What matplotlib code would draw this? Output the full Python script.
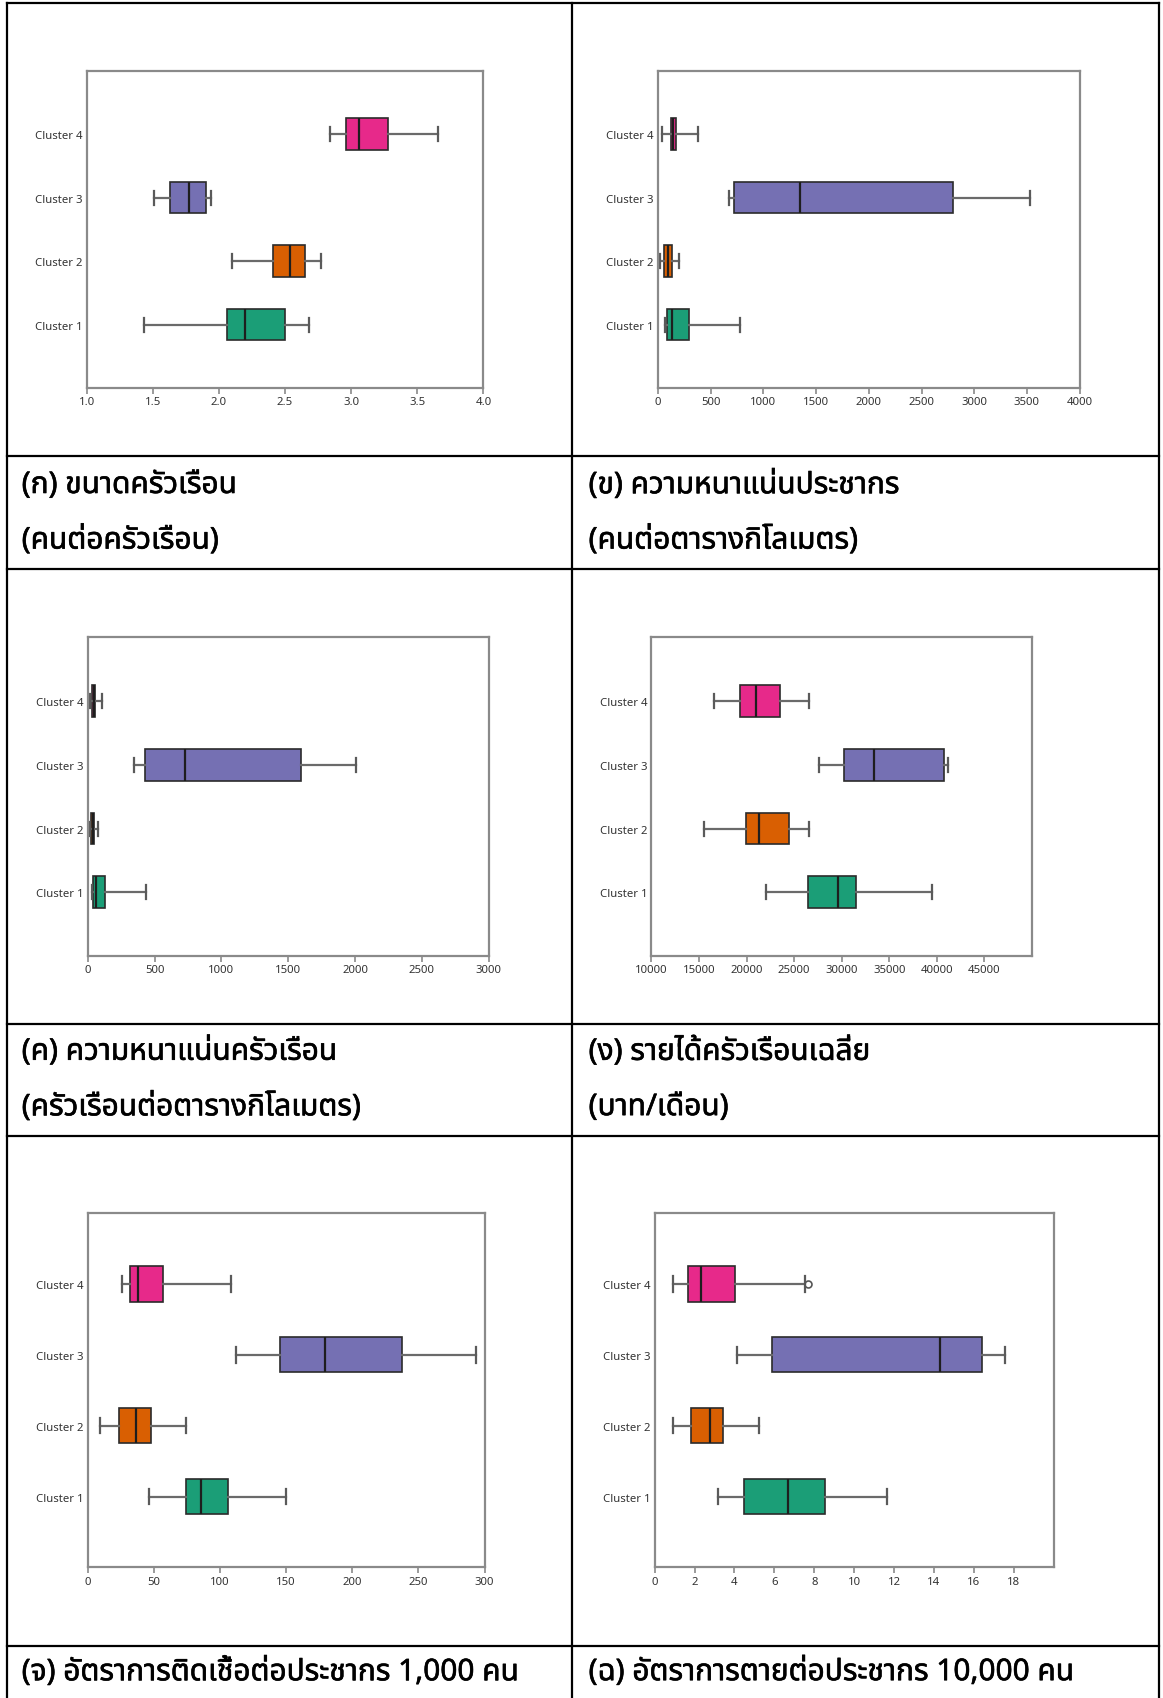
import matplotlib
matplotlib.use('Agg')
import matplotlib.pyplot as plt
import matplotlib.patheffects as pe
from matplotlib.lines import Line2D
from matplotlib import font_manager
from fontTools.ttLib import TTFont
import numpy as np

W, H = 1163, 1699

clusters = ['Cluster 1', 'Cluster 2', 'Cluster 3', 'Cluster 4']
colors = ['#1b9e77', '#d95f02', '#7570b3', '#e7298a']

# (ก) ขนาดครัวเรือน : whisker low, Q1, median, Q3, whisker high per cluster
size_lo = [1.43, 2.10, 1.51, 2.84]
size_q1 = [2.06, 2.41, 1.63, 2.96]
size_med = [2.20, 2.54, 1.77, 3.06]
size_q3 = [2.50, 2.65, 1.90, 3.28]
size_hi = [2.68, 2.77, 1.94, 3.66]

# (ข) ความหนาแน่นประชากร
pop_lo = [66, 23, 674, 42]
pop_q1 = [85, 61, 725, 124]
pop_med = [133, 92, 1346, 140]
pop_q3 = [291, 133, 2800, 168]
pop_hi = [782, 199, 3526, 383]

# (ค) ความหนาแน่นครัวเรือน
hh_lo = [28, 13, 349, 13]
hh_q1 = [40, 25, 431, 35]
hh_med = [63, 37, 730, 44]
hh_q3 = [132, 50, 1593, 52]
hh_hi = [434, 78, 2007, 108]

# (ง) รายได้ครัวเรือนเฉลี่ย
inc_lo = [22030, 15540, 27600, 16570]
inc_q1 = [26490, 19960, 30270, 19280]
inc_med = [29590, 21310, 33380, 20950]
inc_q3 = [31470, 24420, 40750, 23500]
inc_hi = [39550, 26570, 41180, 26570]

# (จ) อัตราการติดเชื้อต่อประชากร 1,000 คน
inf_lo = [46.6, 9.5, 112.2, 26.0]
inf_q1 = [74.0, 23.7, 145.1, 31.8]
inf_med = [85.7, 36.3, 179.2, 37.7]
inf_q3 = [106.1, 48.0, 237.8, 56.7]
inf_hi = [149.6, 74.0, 293.6, 108.3]

# (ฉ) อัตราการตายต่อประชากร 10,000 คน
death_lo = [3.17, 0.93, 4.12, 0.93]
death_q1 = [4.50, 1.84, 5.89, 1.65]
death_med = [6.70, 2.77, 14.28, 2.32]
death_q3 = [8.56, 3.42, 16.42, 4.01]
death_hi = [11.64, 5.22, 17.54, 7.52]
death_fliers = [[], [], [], [7.67]]

captions = [
    ['(ก) ขนาดครัวเรือน', '(คนต่อครัวเรือน)'],
    ['(ข) ความหนาแน่นประชากร', '(คนต่อตารางกิโลเมตร)'],
    ['(ค) ความหนาแน่นครัวเรือน', '(ครัวเรือนต่อตารางกิโลเมตร)'],
    ['(ง) รายได้ครัวเรือนเฉลี่ย', '(บาท/เดือน)'],
    ['(จ) อัตราการติดเชื้อต่อประชากร 1,000 คน'],
    ['(ฉ) อัตราการตายต่อประชากร 10,000 คน'],
]


def thai_families():
    # installed families that have Thai glyphs
    names = []
    for f in font_manager.fontManager.ttflist:
        if f.name in names:
            continue
        try:
            tt = TTFont(f.fname, fontNumber=0, lazy=True)
            cmap = tt.getBestCmap()
            if cmap and 0x0E01 in cmap and 0x0E40 in cmap:
                names.append(f.name)
        except Exception:
            continue
    return names


def pick_thai(names):
    for want in ['Noto Sans Thai', 'Noto Sans Thai UI', 'Leelawadee UI', 'Sarabun',
                 'IBM Plex Sans Thai', 'Prompt', 'Kanit']:
        if want in names:
            return want
    plain = [n for n in names if 'Looped' not in n]
    if plain:
        return plain[0]
    return names[0] if names else 'DejaVu Sans'


THAI = pick_thai(thai_families())
plt.rcParams['font.family'] = ['Noto Sans', 'DejaVu Sans']


def make_stats(lo, q1, med, q3, hi, fliers=None):
    stats = []
    for i in range(len(lo)):
        stats.append({'whislo': lo[i], 'q1': q1[i], 'med': med[i], 'q3': q3[i],
                      'whishi': hi[i], 'fliers': fliers[i] if fliers else [],
                      'label': clusters[i]})
    return stats


def px_axes(fig, l, t, r, b):
    return fig.add_axes([l / W, 1 - b / H, (r - l) / W, (b - t) / H])


def draw_box(ax, stats, xlim, xticks, fmt):
    bp = ax.bxp(stats, positions=[1, 2, 3, 4], widths=0.5, orientation='horizontal',
                patch_artist=True, capwidths=0.22, showfliers=True,
                boxprops=dict(edgecolor='#2b2b2b', linewidth=1.2),
                medianprops=dict(color='#1e1e1e', linewidth=1.6),
                whiskerprops=dict(color='#6a6a6a', linewidth=1.6),
                capprops=dict(color='#5a5a5a', linewidth=1.6),
                flierprops=dict(marker='o', markersize=5, markerfacecolor='none',
                                markeredgecolor='#555555', markeredgewidth=1.2))
    for patch, c in zip(bp['boxes'], colors):
        patch.set_facecolor(c)
    ax.set_xlim(*xlim)
    ax.set_ylim(0, 5)
    ax.set_xticks(xticks)
    ax.set_xticklabels([fmt(v) for v in xticks])
    ax.set_yticks([1, 2, 3, 4])
    ax.set_yticklabels(clusters)
    ax.tick_params(axis='y', length=0, labelsize=8.2, labelcolor='#333333', pad=3)
    ax.tick_params(axis='x', length=4, width=1.2, color='#8a8a8a', labelsize=8.2,
                   labelcolor='#333333', pad=2)
    for s in ax.spines.values():
        s.set_color('#8a8a8a')
        s.set_linewidth(1.6)


fig = plt.figure(figsize=(W / 100, H / 100), dpi=100)

ax = px_axes(fig, 86.7, 71.5, 483.4, 389.1)
draw_box(ax, make_stats(size_lo, size_q1, size_med, size_q3, size_hi),
         (1.0, 4.0), np.arange(1.0, 4.01, 0.5), lambda v: f'{v:.1f}')

ax = px_axes(fig, 658, 71.5, 1079.6, 389.1)
draw_box(ax, make_stats(pop_lo, pop_q1, pop_med, pop_q3, pop_hi),
         (0, 4000), np.arange(0, 4001, 500), lambda v: f'{v:.0f}')

ax = px_axes(fig, 87.8, 638.4, 488.8, 957)
draw_box(ax, make_stats(hh_lo, hh_q1, hh_med, hh_q3, hh_hi),
         (0, 3000), np.arange(0, 3001, 500), lambda v: f'{v:.0f}')

ax = px_axes(fig, 651.4, 638.4, 1031.9, 957)
draw_box(ax, make_stats(inc_lo, inc_q1, inc_med, inc_q3, inc_hi),
         (10000, 50000), np.arange(10000, 45001, 5000), lambda v: f'{v:.0f}')

ax = px_axes(fig, 87.8, 1214, 484.5, 1568.4)
draw_box(ax, make_stats(inf_lo, inf_q1, inf_med, inf_q3, inf_hi),
         (0, 300), np.arange(0, 301, 50), lambda v: f'{v:.0f}')

ax = px_axes(fig, 654.7, 1214, 1053.6, 1568.4)
draw_box(ax, make_stats(death_lo, death_q1, death_med, death_q3, death_hi, death_fliers),
         (0, 20), np.arange(0, 19, 2), lambda v: f'{v:.0f}')

# table borders
def hline(y, x0=6.5, x1=1158.7):
    fig.add_artist(Line2D([x0 / W, x1 / W], [1 - y / H, 1 - y / H], color='black', lw=1.6))

def vline(x, y0=4.3, y1=H):
    fig.add_artist(Line2D([x / W, x / W], [1 - y0 / H, 1 - y1 / H], color='black', lw=1.6))

for y in [4.3, 457.4, 570, 1025.4, 1137, 1646.5]:
    hline(y)
for x in [6.5, 572, 1158.7]:
    vline(x)

# captions, thickened with a thin stroke since the Thai face has one weight
cap_x = [21.7, 588.6]
cap_y = [[486.5, 541.8], [1053, 1108.6], [1673.4]]
heavy = [pe.Stroke(linewidth=0.45, foreground='black'), pe.Normal()]
for i, lines in enumerate(captions):
    row, col = i // 2, i % 2
    for j, txt in enumerate(lines):
        fig.text(cap_x[col] / W, 1 - cap_y[row][j] / H, txt, family=[THAI, 'DejaVu Sans'],
                 fontsize=21.5, ha='left', va='center', color='black', path_effects=heavy)

fig.savefig('out.png', dpi=100)
